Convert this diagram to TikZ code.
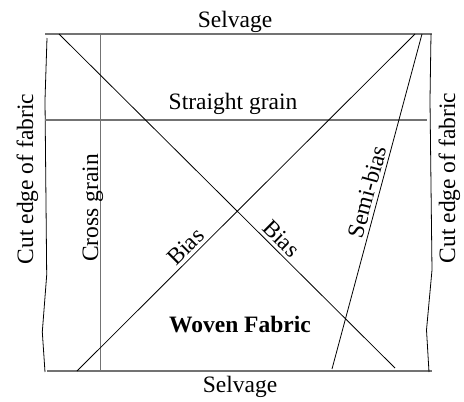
\documentclass[tikz,border=0pt]{standalone}
\usepackage{fontspec}
\setmainfont{Liberation Serif}
\begin{document}
\begin{tikzpicture}[x=1pt,y=-1pt,
  lbl/.style={font=\fontsize{23.5}{28}\selectfont, inner sep=0pt},
  slbl/.style={font=\fontsize{23.5}{28}\selectfont},
  edge/.style={draw=black!55, line width=1.3pt},
  grain/.style={draw=black!55, line width=1.1pt},
  cut/.style={draw=black, line width=0.8pt},
  diag/.style={draw=black, line width=0.8pt}]
\useasboundingbox (0,0) rectangle (464,402);
% corners and anchor points
\coordinate (tl) at (45,34);
\coordinate (tr) at (432,34);
\coordinate (bl) at (47,371);
\coordinate (br) at (432,371);
\coordinate (sgl) at (45,120);
\coordinate (sgr) at (427,120);
\coordinate (cgt) at (100.7,34);
\coordinate (cgb) at (100.7,371);
\coordinate (b1s) at (59,34);
\coordinate (b1e) at (395,368);
\coordinate (b2s) at (77,371);
\coordinate (b2e) at (415,34);
\coordinate (sbs) at (332,369);
\coordinate (sbe) at (422,34);
% selvages
\draw[edge] (tl) -- (tr);
\draw[edge] (bl) -- (br);
% cut edges
\draw[cut] (47,38) -- (45,100) -- (46.7,275) -- (42.3,332) -- (45,372);
\draw[cut] (431,34) -- (430,100) -- (432,270) -- (426.5,330) -- (429,372);
% grains
\draw[grain] (sgl) -- (sgr);
\draw[grain] (cgt) -- (cgb);
% bias lines
\draw[diag] (b1s) -- (b1e) node[pos=0.637, sloped, above, slbl] {Bias};
\draw[diag] (b2s) -- (b2e) node[pos=0.345, sloped, above, slbl] {Bias};
\draw[diag] (sbs) -- (sbe) node[pos=0.52, sloped, above, slbl] {Semi-bias};
% labels
\node[lbl, anchor=base] (selt) at (235,27) {Selvage};
\node[lbl, anchor=base] (selb) at (240,392) {Selvage};
\node[lbl, anchor=base] (sg) at (233,109) {Straight grain};
\node[lbl, anchor=base, font=\fontsize{23.5}{28}\selectfont\bfseries] (wf) at (240,332) {Woven Fabric};
\node[lbl, anchor=base, rotate=90] (cel) at (33,179) {Cut edge of fabric};
\node[lbl, anchor=base, rotate=90] (cer) at (455,178) {Cut edge of fabric};
\node[lbl, anchor=base, rotate=90] (cg) at (98,208) {Cross grain};
\end{tikzpicture}
\end{document}
